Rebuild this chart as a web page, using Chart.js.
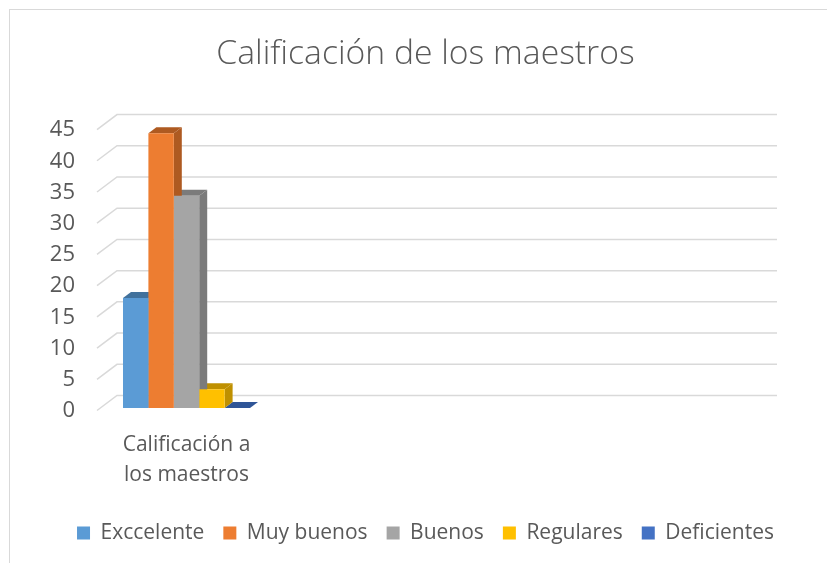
<!DOCTYPE html>
<html><head><meta charset="utf-8">
<script src="https://cdn.jsdelivr.net/npm/chart.js@4"></script>
<style>html,body{margin:0;padding:0;background:#fff}#wrap{width:827px;height:563px;position:relative}</style>
</head><body><div id="wrap"><canvas id="c" width="827" height="563"></canvas></div>
<script>
const chartTitle = 'Calificación de los maestros';
const categories = [['Calificación a', 'los maestros']];
const seriesNames = ['Exccelente', 'Muy buenos', 'Buenos', 'Regulares', 'Deficientes'];
const seriesValues = [17.6, 44, 34, 3, 0];
const seriesColors = ['#5B9BD5', '#ED7D31', '#A5A5A5', '#FFC000', '#4472C4'];
const sideColors = ['#41719C', '#AE5A21', '#7B7B7B', '#BF9000', '#2F5597'];
const yMin = 0, yMax = 45, yStep = 5;

const FONT = "'Open Sans', sans-serif";
const TEXT = '#595959';
const GRID = '#D9D9D9';

const threeD = {
  id: 'threeD',
  beforeDraw(chart) {
    const ctx = chart.ctx;
    ctx.save();
    ctx.strokeStyle = GRID; ctx.lineWidth = 1;
    ctx.strokeRect(9.5, 9.5, 1000, 1000);
    ctx.restore();
  },
  beforeDatasetsDraw(chart) {
    const { ctx, chartArea, scales: { y } } = chart;
    ctx.save();
    ctx.strokeStyle = GRID; ctx.lineWidth = 1.5;
    y.ticks.forEach(t => {
      const py = y.getPixelForValue(t.value);
      ctx.beginPath();
      ctx.moveTo(chartArea.left + 2, py + 2.5);
      ctx.lineTo(chartArea.left + 22, py - 12.5);
      ctx.lineTo(chartArea.right - 50, py - 12.5);
      ctx.stroke();
    });
    const dx = 8, dy = -6;
    for (let i = chart.data.datasets.length - 1; i >= 0; i--) {
      const meta = chart.getDatasetMeta(i);
      meta.data.forEach(bar => {
        const l = bar.x - bar.width / 2, r = bar.x + bar.width / 2;
        const top = bar.y, base = bar.base;
        ctx.fillStyle = sideColors[i];
        ctx.beginPath();
        ctx.moveTo(r, top); ctx.lineTo(r + dx, top + dy);
        ctx.lineTo(r + dx, base + dy); ctx.lineTo(r, base);
        ctx.closePath(); ctx.fill();
        ctx.beginPath();
        ctx.moveTo(l, top); ctx.lineTo(l + dx, top + dy);
        ctx.lineTo(r + dx, top + dy); ctx.lineTo(r, top);
        ctx.closePath(); ctx.fill();
      });
    }
    ctx.restore();
  }
};

new Chart(document.getElementById('c'), {
  type: 'bar',
  data: {
    labels: categories.concat(['', '', '']),
    datasets: seriesNames.map((name, i) => ({
      label: name,
      data: [seriesValues[i]],
      backgroundColor: seriesColors[i],
      borderWidth: 0,
      categoryPercentage: 0.694,
      barPercentage: 1
    }))
  },
  options: {
    responsive: false,
    devicePixelRatio: 1,
    animation: false,
    layout: { padding: { left: 18, right: -6, top: 0, bottom: 9.5 } },
    plugins: {
      title: {
        display: true, text: chartTitle, color: TEXT,
        font: { family: FONT, size: 33.7, weight: '300' },
        padding: { top: 34, bottom: 52.6 }
      },
      legend: {
        position: 'bottom',
        labels: {
          color: TEXT, font: { family: FONT, size: 21 },
          boxWidth: 13, boxHeight: 13, padding: 19
        }
      },
      tooltip: { enabled: false }
    },
    scales: {
      x: {
        grid: { display: false, drawTicks: false },
        border: { display: false },
        ticks: { color: TEXT, font: { family: FONT, size: 21, lineHeight: 1.43 }, padding: 22, maxRotation: 0, autoSkip: false },
        afterFit(s) { s.height = 95.5; }
      },
      y: {
        min: yMin, max: yMax,
        grid: { display: false, drawTicks: false },
        border: { display: false },
        ticks: { stepSize: yStep, color: TEXT, font: { family: FONT, size: 22 }, padding: 20, labelOffset: 3 },
        afterFit(s) { s.width = 77; }
      }
    }
  },
  plugins: [threeD]
});
</script></body></html>
